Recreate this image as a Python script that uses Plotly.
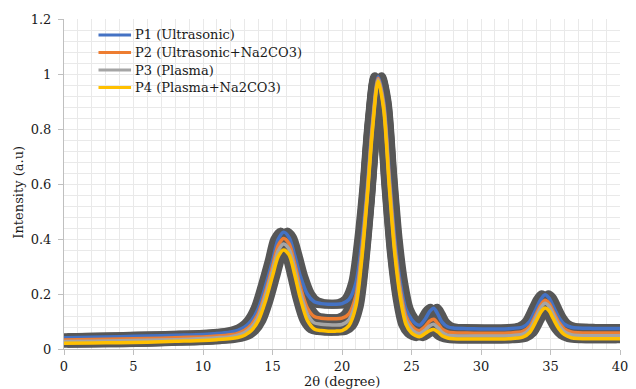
import plotly.graph_objects as go

# 2-theta positions (degree)
theta = [0, 2, 4, 6, 8, 10, 11, 12, 12.5, 13, 13.5, 14, 14.5, 15, 15.4, 15.8, 16.2, 16.6, 17, 17.5,
         18, 18.5, 19, 19.5, 20, 20.5, 21, 21.4, 21.8, 22.2, 22.6, 23, 23.4, 23.8, 24.2, 24.6,
         25, 25.3, 25.6, 26, 26.3, 26.6, 26.9, 27.2, 27.6, 28, 29, 30, 31, 32, 33, 33.5, 34,
         34.3, 34.6, 34.9, 35.2, 35.6, 36, 36.5, 37, 38, 39, 40]

p1 = [0.041, 0.043, 0.045, 0.047, 0.050, 0.053, 0.056, 0.062, 0.068, 0.080, 0.104, 0.150, 0.230, 0.320, 0.398, 0.425, 0.405, 0.340, 0.265, 0.200,
      0.172, 0.165, 0.163, 0.163, 0.165, 0.180, 0.240, 0.380, 0.580, 0.830, 0.990, 0.900, 0.640, 0.400, 0.240, 0.145,
      0.108, 0.092, 0.087, 0.110, 0.136, 0.148, 0.126, 0.098, 0.081, 0.076, 0.074, 0.073, 0.073, 0.074, 0.080, 0.100, 0.150,
      0.180, 0.197, 0.185, 0.155, 0.115, 0.090, 0.079, 0.076, 0.075, 0.075, 0.075]

p2 = [0.033, 0.035, 0.036, 0.038, 0.041, 0.044, 0.047, 0.052, 0.057, 0.068, 0.090, 0.132, 0.208, 0.300, 0.375, 0.402, 0.382, 0.310, 0.228, 0.150,
      0.118, 0.112, 0.110, 0.110, 0.112, 0.128, 0.195, 0.345, 0.560, 0.820, 0.985, 0.890, 0.620, 0.375, 0.215, 0.120,
      0.085, 0.071, 0.067, 0.083, 0.101, 0.108, 0.092, 0.072, 0.062, 0.059, 0.058, 0.057, 0.057, 0.058, 0.064, 0.082, 0.130,
      0.160, 0.177, 0.166, 0.136, 0.097, 0.073, 0.062, 0.059, 0.058, 0.058, 0.058]

p3 = [0.027, 0.028, 0.030, 0.032, 0.034, 0.038, 0.041, 0.045, 0.050, 0.060, 0.080, 0.120, 0.195, 0.285, 0.356, 0.382, 0.362, 0.292, 0.208, 0.128,
      0.095, 0.090, 0.088, 0.087, 0.089, 0.106, 0.175, 0.330, 0.550, 0.810, 0.980, 0.880, 0.605, 0.360, 0.200, 0.105,
      0.072, 0.060, 0.056, 0.070, 0.084, 0.090, 0.077, 0.060, 0.050, 0.048, 0.047, 0.047, 0.047, 0.048, 0.054, 0.072, 0.120,
      0.150, 0.166, 0.155, 0.126, 0.087, 0.063, 0.052, 0.049, 0.048, 0.048, 0.048]

p4 = [0.021, 0.022, 0.023, 0.025, 0.028, 0.031, 0.034, 0.038, 0.042, 0.050, 0.068, 0.105, 0.175, 0.265, 0.335, 0.360, 0.342, 0.270, 0.185, 0.105,
      0.073, 0.067, 0.065, 0.065, 0.067, 0.085, 0.155, 0.315, 0.540, 0.800, 0.975, 0.870, 0.590, 0.345, 0.185, 0.090,
      0.058, 0.049, 0.045, 0.057, 0.067, 0.071, 0.062, 0.048, 0.040, 0.037, 0.036, 0.036, 0.036, 0.037, 0.043, 0.060, 0.105,
      0.134, 0.149, 0.139, 0.110, 0.074, 0.052, 0.041, 0.038, 0.037, 0.037, 0.037]

names = ["P1 (Ultrasonic)", "P2 (Ultrasonic+Na2CO3)", "P3 (Plasma)", "P4 (Plasma+Na2CO3)"]
colors = ["#4472C4", "#ED7D31", "#A5A5A5", "#FFC000"]
series = [p1, p2, p3, p4]

x_ticks = [0, 5, 10, 15, 20, 25, 30, 35, 40]
y_ticks = [0, 0.2, 0.4, 0.6, 0.8, 1, 1.2]
y_tick_text = ["0", "0.2", "0.4", "0.6", "0.8", "1", "1.2"]

FONT = "DejaVu Serif"
FS = 13
TXT = "#1a1a1a"
DARK = "#575757"
SHIFT = 0.24

# plot area in page pixels
L, R, T, B, W, H = 64, 8, 19, 40, 636, 389
PW, PH = W - L - R, H - T - B


def px_x(px):
    return (px - L) / PW


def px_y(py):
    return (H - B - py) / PH


fig = go.Figure()

# dark shadow band under every series
for ys in series:
    for s in (-SHIFT, SHIFT):
        fig.add_trace(go.Scatter(
            x=[t + s for t in theta], y=ys, mode="lines",
            line=dict(color=DARK, width=9, shape="spline", smoothing=0.8),
            showlegend=False, hoverinfo="skip"))

for ys, nm, c in zip(series, names, colors):
    fig.add_trace(go.Scatter(
        x=theta, y=ys, mode="lines", name=nm, showlegend=False,
        line=dict(color=c, width=3.5, shape="spline", smoothing=0.8)))

# legend (drawn as key lines + text to match the tight row spacing)
legend_rows = [35, 52.5, 70, 87.5]
shapes = []
annotations = []
for row, nm, c in zip(legend_rows, names, colors):
    shapes.append(dict(type="line", xref="paper", yref="paper",
                       x0=px_x(99), x1=px_x(132), y0=px_y(row), y1=px_y(row),
                       line=dict(color=c, width=3)))
    annotations.append(dict(text=nm, xref="paper", yref="paper", x=px_x(134), y=px_y(row),
                            xanchor="left", yanchor="middle", showarrow=False,
                            font=dict(family=FONT, size=FS, color=TXT)))

annotations += [
    dict(text="2θ (degree)", xref="paper", yref="paper", x=0.5, y=px_y(381),
         xanchor="center", yanchor="middle", showarrow=False,
         font=dict(family=FONT, size=FS, color=TXT)),
    dict(text="Intensity (a.u)", xref="paper", yref="paper", x=px_x(18), y=px_y(192),
         xanchor="center", yanchor="middle", showarrow=False, textangle=-90,
         font=dict(family=FONT, size=FS, color=TXT)),
]

grid = "#e9e9e9"
axis_col = "#bfbfbf"

fig.update_layout(
    width=W, height=H,
    margin=dict(l=L, r=R, t=T, b=B),
    paper_bgcolor="white", plot_bgcolor="white",
    font=dict(family=FONT, size=FS, color=TXT),
    showlegend=False,
    shapes=shapes,
    annotations=annotations,
    xaxis=dict(range=[0, 40], tickvals=x_ticks, ticktext=[str(v) for v in x_ticks],
               showgrid=True, gridcolor=grid, gridwidth=1,
               minor=dict(dtick=1, showgrid=True, gridcolor=grid, gridwidth=1),
               showline=True, linecolor=axis_col, linewidth=1,
               ticks="outside", ticklen=5, tickcolor=axis_col, ticklabelstandoff=0,
               ticklabeloverflow="allow",
               zeroline=False, tickfont=dict(family=FONT, size=FS, color=TXT)),
    yaxis=dict(range=[0, 1.2], tickvals=y_ticks, ticktext=y_tick_text,
               showgrid=True, gridcolor=grid, gridwidth=1,
               minor=dict(dtick=0.04, showgrid=True, gridcolor=grid, gridwidth=1),
               showline=True, linecolor=axis_col, linewidth=1,
               ticks="outside", ticklen=5, tickcolor=axis_col, ticklabelstandoff=4,
               zeroline=False, tickfont=dict(family=FONT, size=FS, color=TXT)),
)

fig.write_html("out.html", config={"displayModeBar": False},
               post_script="document.body.style.margin='0';document.body.style.padding='0';")
